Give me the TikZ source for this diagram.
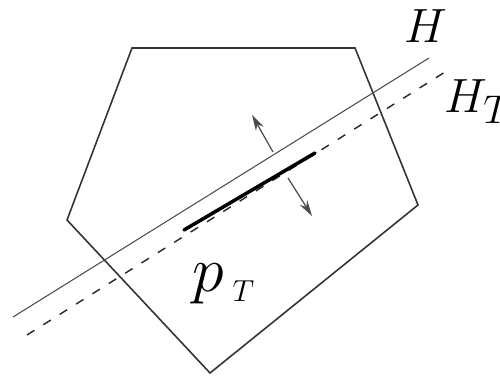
\documentclass[tikz,border=0pt]{standalone}
\usetikzlibrary{arrows.meta}

\begin{document}
\begin{tikzpicture}[x=0.02cm, y=-0.02cm,
  edge/.style={draw=black!80, line width=0.9pt, line join=miter},
  hplane/.style={draw=black!70, line width=0.6pt},
  hdash/.style={draw=black!85, line width=0.8pt, dash pattern=on 5pt off 6pt},
  cut/.style={draw=black, line width=2pt, line cap=round},
  normal/.style={-{Stealth[length=9pt, width=5pt]}, draw=black!70, line width=0.7pt},
  lbl/.style={font=\fontsize{24.88}{30}\selectfont, inner sep=0pt}]
  \useasboundingbox (0,0) rectangle (500,378);
  % polygon P
  \coordinate (v1) at (132,48);
  \coordinate (v2) at (355,48);
  \coordinate (v3) at (418,205);
  \coordinate (v4) at (210,373);
  \coordinate (v5) at (67,220);
  \draw[edge] (v1)--(v2)--(v3)--(v4)--(v5)--cycle;
  % hyperplane H and its translate H_T
  \coordinate (h0) at (13,317);
  \coordinate (h1) at (429,58);
  \coordinate (t0) at (27,335);
  \coordinate (t1) at (445,72);
  \draw[hplane] (h0)--(h1);
  \draw[hdash] (t0)--(t1);
  % face and normals
  \coordinate (c0) at (184,230);
  \coordinate (c1) at (315,153);
  \draw[cut] (c0)--(c1);
  \coordinate (n0) at (273,152);
  \coordinate (n1) at (252,115);
  \coordinate (m0) at (288,178);
  \coordinate (m1) at (312,216);
  \draw[normal] (n0)--(n1);
  \draw[normal] (m0)--(m1);
  % labels
  \node[lbl, anchor=base] (labH) at (426,43) {\scalebox{1.1}{$H$}};
  \node[lbl, anchor=base west] (labHT) at (444,113) {\scalebox{1.1}{$H_T$}};
  \node[lbl, anchor=base west] (labp) at (192,291)
    {\scalebox{1.47}{$p$}\hspace{5pt}\raisebox{-6pt}{$\scriptscriptstyle T$}};
\end{tikzpicture}
\end{document}
